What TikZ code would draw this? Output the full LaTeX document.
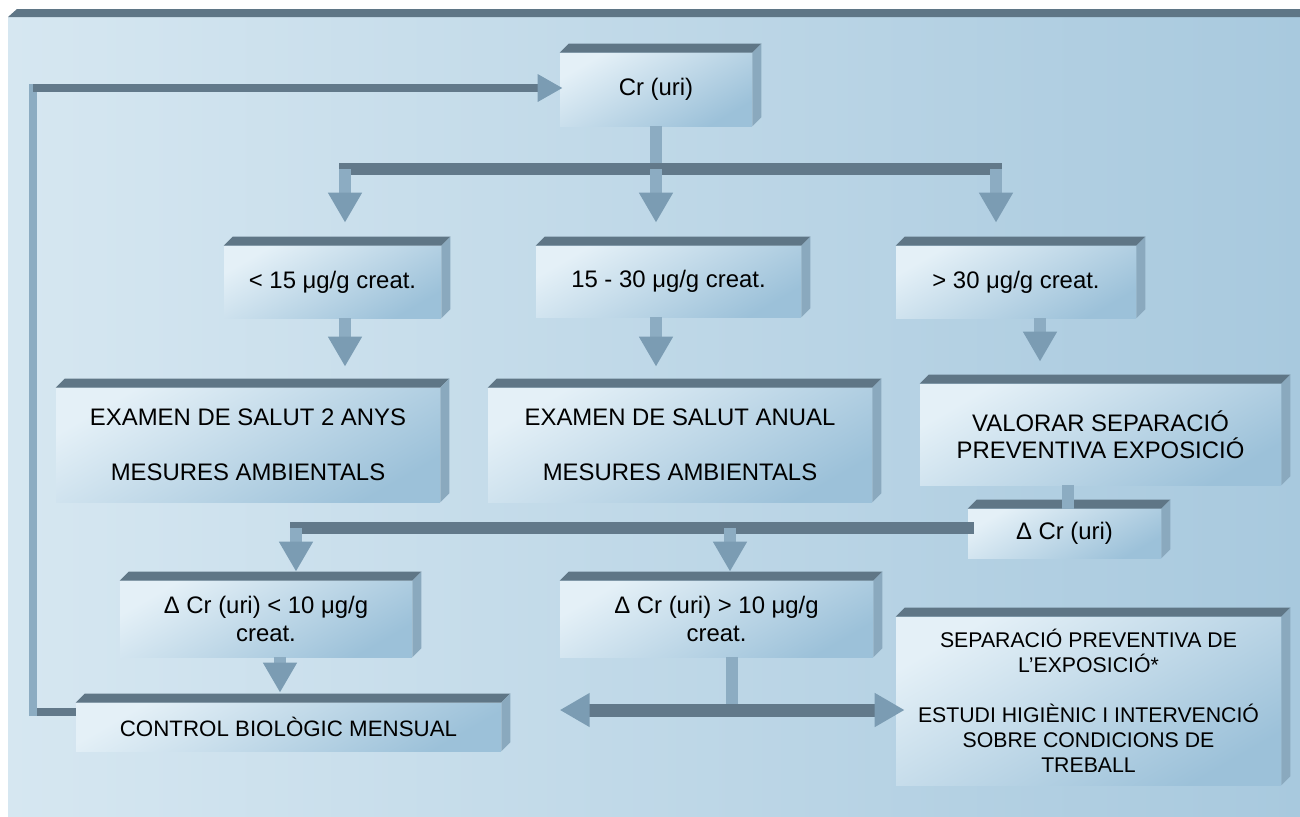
\documentclass[tikz,border=0pt]{standalone}
\usepackage{fontspec}
\setmainfont{Liberation Sans}
\usetikzlibrary{arrows.meta}
\definecolor{fonsA}{HTML}{D6E7F1}
\definecolor{fonsB}{HTML}{A8C9DE}
\definecolor{tapa}{HTML}{5F7686}
\definecolor{costat}{HTML}{8AA9BE}
\definecolor{caraA}{HTML}{E4F0F7}
\definecolor{caraB}{HTML}{9CC1D9}
\definecolor{barra}{HTML}{62798A}
\definecolor{tija}{HTML}{8CACC2}
\definecolor{punta}{HTML}{7B9CB3}
% cara superior i lateral d'una caixa
\newcommand{\gruix}[1]{%
  \fill[tapa] (#1.north west) -- ++(9,-9) -- ([shift={(9,-9)}]#1.north east) -- (#1.north east) -- cycle;
  \fill[costat] (#1.north east) -- ++(9,-9) -- ([shift={(9,-9)}]#1.south east) -- (#1.south east) -- cycle;}

\begin{document}
\begin{tikzpicture}[x=0.02cm, y=-0.02cm,
  caixa/.style={top color=caraA, bottom color=caraB, shading angle=30, inner sep=0pt,
    align=center, text=black, font=\fontsize{13.6}{15.6}\selectfont},
  hbar/.style={draw=barra, line width=0.24cm},
  vbar/.style={draw=tija, line width=0.24cm},
  punxa/.tip={Triangle[width=0.64cm,length=0.6cm,fill=punta,color=punta]},
  punxeta/.tip={Triangle[width=0.52cm,length=0.5cm,fill=punta,color=punta]}]
  \useasboundingbox (0,0) rectangle (1300,816);
  % fons
  \shade[left color=fonsA, right color=fonsB] (8,17) rectangle (1300,816);
  \fill[tapa] (8,17) -- (17,9) -- (1300,9) -- (1300,17) -- cycle;
  % caixes
  \node[caixa, minimum width=3.84cm, minimum height=1.46cm] (cr) at (656,89.5) {Cr (uri)};
  \node[caixa, minimum width=4.34cm, minimum height=1.44cm] (lo) at (332.5,282) {< 15 μg/g creat.};
  \node[caixa, minimum width=5.30cm, minimum height=1.42cm] (mid) at (668.5,281.5) {15 - 30 μg/g creat.};
  \node[caixa, minimum width=4.80cm, minimum height=1.44cm] (hi) at (1016,282) {> 30 μg/g creat.};
  \node[caixa, minimum width=7.68cm, minimum height=2.28cm] (ex2) at (248,445)
    {EXAMEN DE SALUT 2 ANYS\\[15.6pt]MESURES AMBIENTALS};
  \node[caixa, minimum width=7.68cm, minimum height=2.28cm] (exa) at (680,445)
    {EXAMEN DE SALUT ANUAL\\[15.6pt]MESURES AMBIENTALS};
  \node[caixa, minimum width=7.22cm, minimum height=2.02cm] (val) at (1100.5,434.5)
    {VALORAR SEPARACIÓ\\PREVENTIVA EXPOSICIÓ};
  \node[caixa, minimum width=3.86cm, minimum height=0.98cm] (dcr) at (1064.5,533.5) {Δ Cr (uri)};
  \node[caixa, minimum width=5.84cm, minimum height=1.52cm] (dlo) at (266,619)
    {Δ Cr (uri) < 10 μg/g\\creat.};
  \node[caixa, minimum width=6.26cm, minimum height=1.52cm] (dhi) at (716.5,619)
    {Δ Cr (uri) > 10 μg/g\\creat.};
  \node[caixa, minimum width=8.50cm, minimum height=0.96cm, font=\fontsize{12.7}{15}\selectfont]
    (ctl) at (288.5,727) {CONTROL BIOLÒGIC MENSUAL};
  \node[caixa, minimum width=7.70cm, minimum height=3.36cm, font=\fontsize{12.1}{14.2}\selectfont]
    (sep) at (1088.5,701) {SEPARACIÓ PREVENTIVA DE\\L’EXPOSICIÓ*\\[14.2pt]ESTUDI HIGIÈNIC I INTERVENCIÓ\\SOBRE CONDICIONS DE\\TREBALL};
  \gruix{cr} \gruix{lo} \gruix{mid} \gruix{hi} \gruix{ex2} \gruix{exa}
  \gruix{val} \gruix{dcr} \gruix{dlo} \gruix{dhi} \gruix{ctl} \gruix{sep}
  % retorn al control
  \coordinate (lA) at (33,712);
  \coordinate (lB) at (33,88);
  \draw[hbar, line width=0.16cm] (lA -| ctl.west) -- (lA);
  \draw[vbar, line width=0.16cm, line cap=rect] (lA) -- (lB);
  \draw[hbar, line width=0.16cm, -punxeta, shorten >=-0.06cm] (lB) -- (lB -| cr.west);
  % primera branca
  \coordinate (r1a) at (345,169);
  \coordinate (r1) at (656,169);
  \coordinate (r1c) at (996,169);
  \draw[vbar] (cr.south) -- (r1);
  \draw[hbar, line cap=rect] (r1a) -- (r1c);
  \draw[vbar, -punxa, shorten >=0.46cm] (r1a) -- (r1a |- lo.north);
  \draw[vbar, -punxa, shorten >=0.46cm] (r1) -- (r1 |- mid.north);
  \draw[vbar, -punxa, shorten >=0.46cm] (r1c) -- (r1c |- hi.north);
  \draw[vbar, -punxa, shorten >=0.42cm] (lo.south -| r1a) -- (ex2.north -| r1a);
  \draw[vbar, -punxa, shorten >=0.42cm] (mid.south -| r1) -- (exa.north -| r1);
  \draw[vbar, -punxa, shorten >=0.44cm] ([xshift=0.48cm]hi.south) -- ([xshift=0.48cm]hi.south |- val.north);
  \draw[vbar] ([xshift=-0.65cm]val.south) -- ([xshift=-0.65cm]val.south |- dcr.north);
  % segona branca
  \coordinate (r2a) at (296,528);
  \coordinate (r2b) at (730,528);
  \draw[hbar, line cap=rect] (dcr.west |- r2a) -- (r2a);
  \draw[vbar, -punxa, shorten >=0.18cm] (r2a) -- (r2a |- dlo.north);
  \draw[vbar, -punxa, shorten >=0.18cm] (r2b) -- (r2b |- dhi.north);
  \draw[vbar, -punxa, shorten >=0.2cm] ([xshift=0.28cm]dlo.south) -- ([xshift=0.28cm]dlo.south |- ctl.north);
  \coordinate (r3) at (732,710);
  \draw[vbar] (dhi.south -| r3) -- (r3);
  \draw[hbar, line width=0.26cm, punxa-punxa, shorten >=-0.18cm] (r3 -| dhi.west) -- (r3 -| sep.west);
\end{tikzpicture}
\end{document}
